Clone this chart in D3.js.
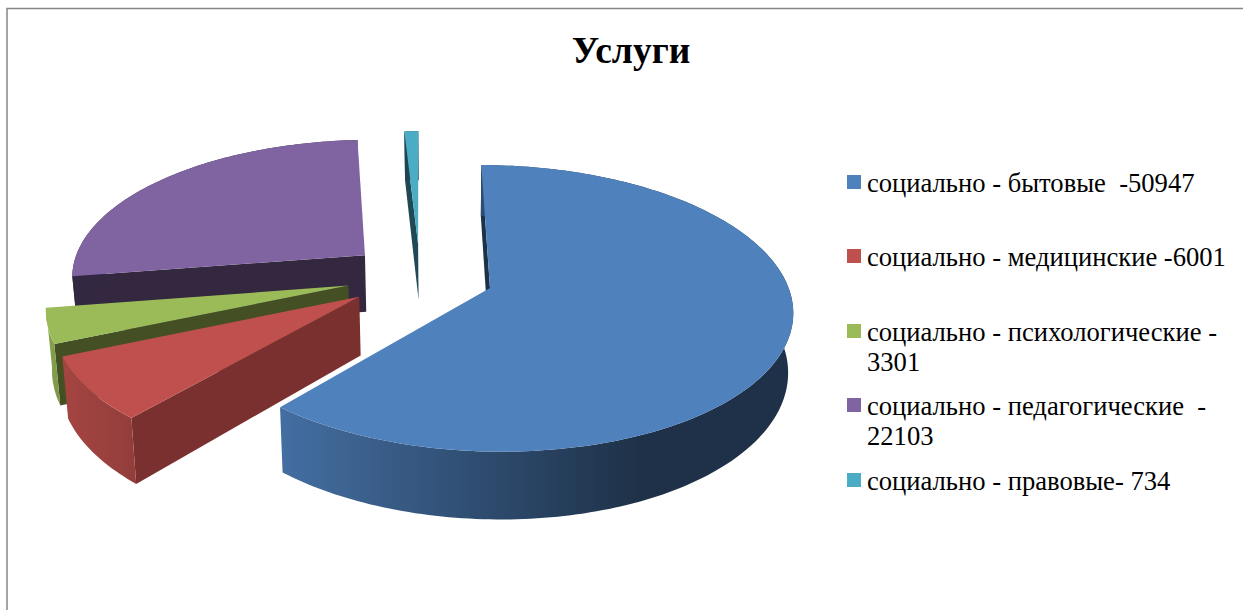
<!DOCTYPE html>
<html>
<head>
<meta charset="utf-8">
<script src="https://cdn.jsdelivr.net/npm/d3@7"></script>
<style>
  html, body { margin: 0; padding: 0; background: #fff; overflow: hidden; }
  svg { display: block; }
  text { font-family: "Liberation Serif", serif; fill: #000; white-space: pre; }
</style>
</head>
<body>
<div id="visualization"></div>
<script>
const chartTitle = 'Услуги'
const categories = ['бытовые', 'медицинские', 'психологические', 'педагогические', 'правовые']
const values = [50947, 6001, 3301, 22103, 734]
const legendLines = [
  ['социально - бытовые  -50947'],
  ['социально - медицинские -6001'],
  ['социально - психологические -', '3301'],
  ['социально - педагогические  -', '22103'],
  ['социально - правовые- 734']
]
const colors = ['#4f81bd', '#c0504d', '#9bbb59', '#8064a2', '#4bacc6']
const faceColors = ['#1d3248', '#7a302e', '#454f24', '#33283f', '#1f4a55']
// brightness of the curved wall at its left and right end
const wallShade = [[0.85, 0.38], [0.86, 0.76], [0.88, 0.8], [0.4, 0.4], [0.4, 0.4]]
// how far each slice is pulled out of the pie
const explodeBy = [0.25, 0.25, 0.25, 0.245, 0.24]

const w = 1243, h = 610

// 3d pie settings
const cx = 420, cy = 276,
  rx = 295, ry = 137,
  perspective = 0.14,
  depth = 57.5,
  rotation = 0

const svg = d3.select('#visualization')
  .append('svg')
  .attr('width', w)
  .attr('height', h)

// frame, only top and left are visible
svg.append('path')
  .attr('d', `M7,${h}V8.5H${w}`)
  .attr('fill', 'none')
  .attr('stroke', '#868686')
  .attr('stroke-width', 1.5)

svg.append('text')
  .attr('x', 631)
  .attr('y', 63)
  .attr('text-anchor', 'middle')
  .attr('font-size', 37.5)
  .attr('font-weight', 'bold')
  .text(chartTitle)

const pie = d3.pie()
  .sort(null)
  .startAngle(rotation)
  .endAngle(rotation + 2 * Math.PI)

const slices = pie(values)
const defs = svg.append('defs')
const line = d3.line()

// disk coordinates -> screen, lower = true gives the bottom of the pie
function project(px, pz, lower) {
  const s = 1 / (1 + perspective * pz)
  let x = cx + rx * px * s
  let y = cy - ry * pz * s
  if (lower) {
    x = 450 + (x - 450) * 0.985
    y += depth * s
  }
  return [x, y]
}

function rimPoints(d, lower) {
  const mid = (d.startAngle + d.endAngle) / 2
  const e = explodeBy[d.index]
  const n = Math.max(4, Math.ceil((d.endAngle - d.startAngle) / 0.02))
  return d3.range(n + 1).map(i => {
    const a = d3.interpolateNumber(d.startAngle, d.endAngle)(i / n)
    return project(Math.sin(a) + e * Math.sin(mid), Math.cos(a) + e * Math.cos(mid), lower)
  })
}

function apex(d, lower) {
  const mid = (d.startAngle + d.endAngle) / 2
  const e = explodeBy[d.index]
  return project(e * Math.sin(mid), e * Math.cos(mid), lower)
}

// back to front
const drawOrder = [4, 3, 2, 1, 0]

drawOrder.forEach(i => {
  const d = slices[i]
  const top = rimPoints(d, false)
  const bottom = rimPoints(d, true)
  const g = svg.append('g').attr('class', 'slice-' + categories[i])

  // radial face at the start of the slice
  g.append('path')
    .attr('d', line([apex(d, false), top[0], bottom[0], apex(d, true)]) + 'Z')
    .attr('fill', faceColors[i])

  // curved wall
  const xs = top.concat(bottom).map(p => p[0])
  const grad = defs.append('linearGradient')
    .attr('id', 'wall' + i)
    .attr('gradientUnits', 'userSpaceOnUse')
    .attr('x1', i === 0 ? 282 : d3.min(xs))
    .attr('x2', i === 0 ? 640 : d3.max(xs))
    .attr('y1', 0)
    .attr('y2', 0)
  wallShade[i].forEach((k, j) => {
    const c = d3.rgb(colors[i])
    grad.append('stop')
      .attr('offset', j)
      .attr('stop-color', d3.rgb(c.r * k, c.g * k, c.b * k).formatHex())
  })
  g.append('path')
    .attr('d', line(top.concat(bottom.slice().reverse())) + 'Z')
    .attr('fill', `url(#wall${i})`)

  // top
  g.append('path')
    .attr('d', line([apex(d, false)].concat(top)) + 'Z')
    .attr('fill', colors[i])
})

// legend
const legendY = d3.scaleOrdinal().domain(categories).range([192, 266, 341, 415, 490])
const legend = svg.selectAll('.legend-item')
  .data(categories)
  .enter()
  .append('g')
  .attr('class', 'legend-item')

legend.append('rect')
  .attr('x', 847)
  .attr('y', d => legendY(d) - 17)
  .attr('width', 14)
  .attr('height', 14)
  .attr('fill', (d, i) => colors[i])

legendLines.forEach((lines, i) => {
  lines.forEach((label, j) => {
    svg.append('text')
      .attr('class', 'legend-label')
      .attr('x', 867)
      .attr('y', legendY(categories[i]) + j * 30)
      .attr('font-size', 26.6)
      .text(label)
  })
})
</script>
</body>
</html>
